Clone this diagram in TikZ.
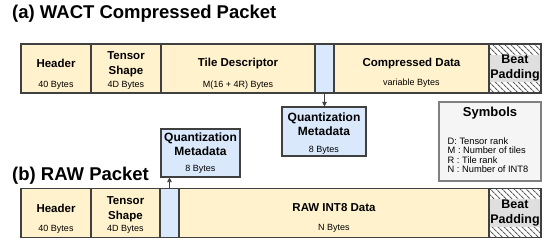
\documentclass[tikz,border=0pt]{standalone}
\usepackage{fontspec}
\setmainfont{Liberation Sans}
\usetikzlibrary{positioning,patterns.meta,arrows.meta}
\definecolor{pktyellow}{HTML}{FFF2CC}
\definecolor{pktblue}{HTML}{DAE8FC}
\definecolor{pktline}{HTML}{404040}
\definecolor{symfill}{HTML}{F5F5F5}
\definecolor{symline}{HTML}{808080}
\tikzset{
    cell/.style={draw=pktline, line width=1.1pt, minimum height=49pt, inner sep=0pt, outer sep=0pt},
    datacell/.style={cell, fill=pktyellow, minimum width=#1},
    quantcell/.style={cell, fill=pktblue, minimum width=19pt},
    padcell/.style={cell, minimum width=52pt, pattern={Lines[angle=-45,distance=4pt,line width=1.1pt]}, pattern color=pktline!85},
    fieldname/.style={font=\fontsize{11.5}{15}\selectfont\bfseries, align=center, inner sep=0pt},
    padname/.style={font=\fontsize{12.5}{15}\selectfont\bfseries, align=center, fill=gray!25, inner sep=0.5pt},
    fieldsize/.style={font=\fontsize{9}{10}\selectfont, inner sep=0pt},
    metabox/.style={draw=pktline, line width=1.1pt, fill=pktblue, inner sep=0pt},
    metaname/.style={font=\fontsize{12}{14}\selectfont\bfseries, align=center, inner sep=0pt},
    title/.style={font=\fontsize{18.5}{20}\selectfont\bfseries, anchor=base west, inner sep=0pt},
    conn/.style={draw=pktline, line width=0.8pt, -{Triangle[length=4.5pt,width=4.5pt]}},
}
\begin{document}
\begin{tikzpicture}[x=1pt, y=-1pt]
    \useasboundingbox (0,0) rectangle (550,244);
    % (a) compressed packet
    \node[title] (titleA) at (12,18) {(a) WACT Compressed Packet};
    \node[datacell=70pt, anchor=west] (hdrA) at (21,68.5) {};
    \node[datacell=70pt, right=0pt of hdrA] (shapeA) {};
    \node[datacell=154pt, right=0pt of shapeA] (tileA) {};
    \node[quantcell, right=0pt of tileA] (quantA) {};
    \node[datacell=155pt, right=0pt of quantA] (dataA) {};
    \node[padcell, right=0pt of dataA] (padA) {};
    \node[fieldname] (hdrAname) at ([yshift=5pt]hdrA.center) {Header};
    \node[fieldsize] (hdrAsize) at ([yshift=-16.5pt]hdrA.center) {40 Bytes};
    \node[fieldname] (shapeAname) at ([yshift=4pt]shapeA.center) {Tensor\\Shape};
    \node[fieldsize] (shapeAsize) at ([yshift=-16.5pt]shapeA.center) {4D Bytes};
    \node[fieldname] (tileAname) at ([yshift=5pt]tileA.center) {Tile Descriptor};
    \node[fieldsize] (tileAsize) at ([yshift=-16.5pt]tileA.center) {M(16 + 4R) Bytes};
    \node[fieldname] (dataAname) at ([yshift=5pt]dataA.center) {Compressed Data};
    \node[fieldsize] (dataAsize) at ([yshift=-15pt]dataA.center) {variable Bytes};
    \node[padname] (padAname) at (padA.center) {Beat\\Padding};
    \node[metabox, minimum width=84pt, minimum height=49pt] (metaA) at (324,131.5) {};
    \node[metaname] (metaAname) at ([yshift=7.5pt]metaA.center) {Quantization\\Metadata};
    \node[fieldsize] (metaAsize) at ([yshift=-18.5pt]metaA.center) {8 Bytes};
    \draw[conn] (quantA.south) -- (quantA.south |- metaA.north);
    % symbols
    \node[draw=symline, fill=symfill, line width=1.2pt, minimum width=102pt, minimum height=79pt, inner sep=0pt] (symbols) at (490,141.5) {};
    \node[metaname, font=\fontsize{13}{14}\selectfont\bfseries] (symtitle) at (490,113) {Symbols};
    \node[fieldsize, font=\fontsize{9.3}{9.4}\selectfont, align=left, anchor=west] (symlist) at (447.5,155)
        {D: Tensor rank\\M : Number of tiles\\R : Tile rank\\N : Number of INT8};
    % (b) raw packet
    \node[title] (titleB) at (12,180) {(b) RAW Packet};
    \node[datacell=70pt, anchor=west] (hdrB) at (21,213) {};
    \node[datacell=69pt, right=0pt of hdrB] (shapeB) {};
    \node[quantcell, right=0pt of shapeB] (quantB) {};
    \node[datacell=310pt, right=0pt of quantB] (dataB) {};
    \node[padcell, right=0pt of dataB] (padB) {};
    \node[fieldname] (hdrBname) at ([yshift=5pt]hdrB.center) {Header};
    \node[fieldsize] (hdrBsize) at ([yshift=-16.5pt]hdrB.center) {40 Bytes};
    \node[fieldname] (shapeBname) at ([yshift=4pt]shapeB.center) {Tensor\\Shape};
    \node[fieldsize] (shapeBsize) at ([yshift=-16.5pt]shapeB.center) {4D Bytes};
    \node[fieldname] (dataBname) at ([yshift=5pt]dataB.center) {RAW INT8 Data};
    \node[fieldsize] (dataBsize) at ([yshift=-15pt]dataB.center) {N Bytes};
    \node[padname] (padBname) at (padB.center) {Beat\\Padding};
    \node[metabox, minimum width=79pt, minimum height=48pt] (metaB) at (200.5,153) {};
    \node[metaname] (metaBname) at ([yshift=9pt]metaB.center) {Quantization\\Metadata};
    \node[fieldsize] (metaBsize) at ([yshift=-16pt]metaB.center) {8 Bytes};
    \draw[conn] (quantB.north) -- (quantB.north |- metaB.south);
\end{tikzpicture}
\end{document}
